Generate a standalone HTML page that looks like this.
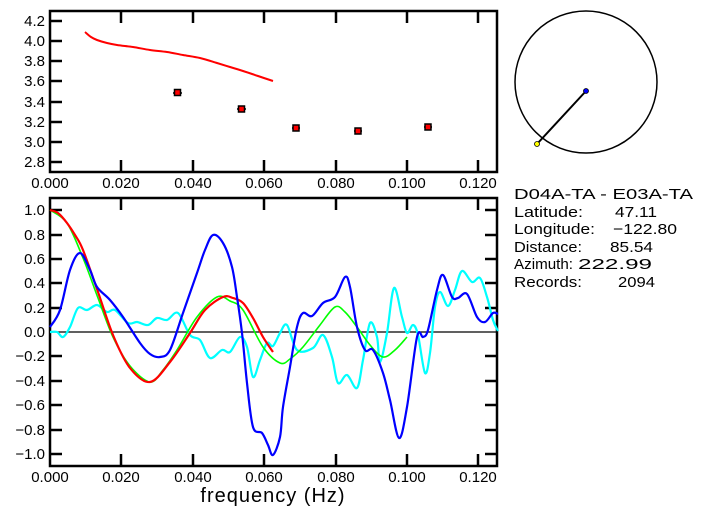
<!DOCTYPE html>
<html><head><meta charset="utf-8"><style>
html,body{margin:0;padding:0;background:#fff;width:702px;height:519px;overflow:hidden}
svg{display:block}
.t{font-family:"Liberation Sans",sans-serif;font-size:15px;fill:#000}
.m{font-family:"Liberation Sans",sans-serif;font-size:15px;fill:#000}
</style></head><body>
<svg width="702" height="519" viewBox="0 0 702 519" xmlns="http://www.w3.org/2000/svg">
<!-- top panel -->
<rect x="50" y="11" width="447" height="161" fill="none" stroke="#000" stroke-width="2.5"/>
<g stroke="#000" stroke-width="2.5">
<line x1="50" y1="21" x2="62" y2="21"/><line x1="50" y1="41" x2="62" y2="41"/><line x1="50" y1="61" x2="62" y2="61"/><line x1="50" y1="81" x2="62" y2="81"/><line x1="50" y1="102" x2="62" y2="102"/><line x1="50" y1="122" x2="62" y2="122"/><line x1="50" y1="142" x2="62" y2="142"/><line x1="50" y1="162" x2="62" y2="162"/>
<line x1="121" y1="11" x2="121" y2="23"/><line x1="193" y1="11" x2="193" y2="23"/><line x1="264" y1="11" x2="264" y2="23"/><line x1="336" y1="11" x2="336" y2="23"/><line x1="407" y1="11" x2="407" y2="23"/><line x1="478" y1="11" x2="478" y2="23"/>
<line x1="121" y1="172" x2="121" y2="160"/><line x1="193" y1="172" x2="193" y2="160"/><line x1="264" y1="172" x2="264" y2="160"/><line x1="336" y1="172" x2="336" y2="160"/><line x1="407" y1="172" x2="407" y2="160"/><line x1="478" y1="172" x2="478" y2="160"/>
</g>
<g class="t" text-anchor="end">
<text x="45" y="26">4.2</text><text x="45" y="46">4.0</text><text x="45" y="66">3.8</text><text x="45" y="86">3.6</text><text x="45" y="107">3.4</text><text x="45" y="127">3.2</text><text x="45" y="147">3.0</text><text x="45" y="167">2.8</text>
</g>
<g class="t" text-anchor="middle">
<text x="50" y="188">0.000</text><text x="121" y="188">0.020</text><text x="193" y="188">0.040</text><text x="264" y="188">0.060</text><text x="336" y="188">0.080</text><text x="407" y="188">0.100</text><text x="478" y="188">0.120</text>
</g>
<polyline class="s" fill="none" stroke="#f00" stroke-width="2" points="85,32 91,37 97,40 107,43 117,45 133,47 150,50 167,52 183,55 200,58 217,63 230,67 243,71 258,76 273,81"/>
<g stroke="#000" stroke-width="1.5" fill="#f00">
<line x1="173" y1="93" x2="182" y2="93"/><rect x="174.5" y="89.5" width="6" height="6"/>
<line x1="237" y1="109" x2="246" y2="109"/><rect x="238.5" y="106" width="6" height="6"/>
<line x1="292" y1="128" x2="300" y2="128"/><rect x="293" y="125" width="6" height="6"/>
<line x1="354" y1="131" x2="362" y2="131"/><rect x="355" y="128" width="6" height="6"/>
<line x1="424" y1="127" x2="432" y2="127"/><rect x="425" y="124" width="6" height="6"/>
</g>
<!-- circle -->
<circle cx="586" cy="82" r="71" fill="none" stroke="#000" stroke-width="1.5"/>
<line x1="586" y1="91" x2="537" y2="144" stroke="#000" stroke-width="2"/>
<circle cx="586" cy="91" r="2.5" fill="#00f" stroke="#000" stroke-width="0.8"/>
<circle cx="537" cy="144" r="2.5" fill="#ff0" stroke="#000" stroke-width="0.8"/>
<g class="m">
<text x="514" y="199" textLength="179" lengthAdjust="spacingAndGlyphs">D04A-TA  -  E03A-TA</text>
<text x="514" y="217" textLength="69" lengthAdjust="spacingAndGlyphs">Latitude:</text><text x="615" y="217" textLength="42" lengthAdjust="spacingAndGlyphs">47.11</text>
<text x="514" y="234" textLength="81" lengthAdjust="spacingAndGlyphs">Longitude:</text><text x="613" y="234" textLength="64" lengthAdjust="spacingAndGlyphs">−122.80</text>
<text x="514" y="252" textLength="68" lengthAdjust="spacingAndGlyphs">Distance:</text><text x="610" y="252" textLength="43" lengthAdjust="spacingAndGlyphs">85.54</text>
<text x="514" y="269" textLength="59" lengthAdjust="spacingAndGlyphs">Azimuth:</text><text x="578" y="269" textLength="74" lengthAdjust="spacingAndGlyphs">222.99</text>
<text x="514" y="287" textLength="68" lengthAdjust="spacingAndGlyphs">Records:</text><text x="618" y="287" textLength="37" lengthAdjust="spacingAndGlyphs">2094</text>
</g>
<!-- bottom panel -->
<rect x="50" y="198" width="447" height="268" fill="none" stroke="#000" stroke-width="2.5"/>
<line x1="50" y1="332" x2="497" y2="332" stroke="#000" stroke-width="1.3"/>
<g stroke="#000" stroke-width="2.5">
<line x1="50" y1="210" x2="62" y2="210"/><line x1="50" y1="235" x2="62" y2="235"/><line x1="50" y1="259" x2="62" y2="259"/><line x1="50" y1="283" x2="62" y2="283"/><line x1="50" y1="308" x2="62" y2="308"/><line x1="50" y1="356" x2="62" y2="356"/><line x1="50" y1="381" x2="62" y2="381"/><line x1="50" y1="405" x2="62" y2="405"/><line x1="50" y1="430" x2="62" y2="430"/><line x1="50" y1="454" x2="62" y2="454"/>
<line x1="485" y1="210" x2="497" y2="210"/><line x1="485" y1="235" x2="497" y2="235"/><line x1="485" y1="259" x2="497" y2="259"/><line x1="485" y1="283" x2="497" y2="283"/><line x1="485" y1="308" x2="497" y2="308"/><line x1="485" y1="356" x2="497" y2="356"/><line x1="485" y1="381" x2="497" y2="381"/><line x1="485" y1="405" x2="497" y2="405"/><line x1="485" y1="430" x2="497" y2="430"/><line x1="485" y1="454" x2="497" y2="454"/>
<line x1="121" y1="198" x2="121" y2="210"/><line x1="193" y1="198" x2="193" y2="210"/><line x1="264" y1="198" x2="264" y2="210"/><line x1="336" y1="198" x2="336" y2="210"/><line x1="407" y1="198" x2="407" y2="210"/><line x1="478" y1="198" x2="478" y2="210"/>
<line x1="121" y1="466" x2="121" y2="454"/><line x1="193" y1="466" x2="193" y2="454"/><line x1="264" y1="466" x2="264" y2="454"/><line x1="336" y1="466" x2="336" y2="454"/><line x1="407" y1="466" x2="407" y2="454"/><line x1="478" y1="466" x2="478" y2="454"/>
</g>
<g class="t" text-anchor="end">
<text x="45" y="215">1.0</text><text x="45" y="240">0.8</text><text x="45" y="264">0.6</text><text x="45" y="288">0.4</text><text x="45" y="313">0.2</text><text x="45" y="337">0.0</text><text x="45" y="361">−0.2</text><text x="45" y="386">−0.4</text><text x="45" y="410">−0.6</text><text x="45" y="435">−0.8</text><text x="45" y="459">−1.0</text>
</g>
<g class="t" text-anchor="middle">
<text x="50" y="482">0.000</text><text x="121" y="482">0.020</text><text x="193" y="482">0.040</text><text x="264" y="482">0.060</text><text x="336" y="482">0.080</text><text x="407" y="482">0.100</text><text x="478" y="482">0.120</text>
</g>
<text x="273" y="502" text-anchor="middle" style="font-family:'Liberation Sans',sans-serif;font-size:20px;letter-spacing:1px">frequency (Hz)</text>
<!-- curves -->
<polyline class="s" fill="none" stroke="#0ff" stroke-width="2.2" stroke-linejoin="round" points="50,332 57,332 63,337 70,327 78,308 87,310 97,305 107,312 115,310 128,323 137,322 148,325 157,318 167,320 178,313 190,335 200,340 210,358 222,350 230,352 240,337 247,347 253,377 260,360 267,343 273,346 280,333 287,325 297,350 313,348 323,335 332,357 338,383 347,375 357,388 363,360 370,323 377,337 380,362 387,333 394,288 402,317 407,333 413,325 418,335 425,373 430,353 435,307 440,292 448,306 455,290 462,271 472,282 480,278 487,297 493,320 498,331"/>
<polyline class="s" fill="none" stroke="#0f0" stroke-width="1.6" stroke-linejoin="round" points="50,210 67,223 83,258 98,298 113,337 130,366 150,382 163,370 177,350 197,317 217,297 230,301 243,310 263,347 280,363 290,359 303,347 320,325 335,307 345,312 357,327 370,345 383,357 395,350 407,337"/>
<polyline class="s" fill="none" stroke="#f00" stroke-width="2.2" stroke-linejoin="round" points="50,210 58,213 67,223 75,235 83,250 98,292 113,335 130,368 150,382 170,362 190,333 205,310 223,297 233,298 243,303 253,318 263,337 273,352"/>
<polyline class="s" fill="none" stroke="#00f" stroke-width="2.2" stroke-linejoin="round" points="50,327 60,310 70,270 80,253 90,270 97,287 110,300 123,317 140,343 150,354 160,357 170,350 183,313 197,273 205,250 213,235 223,243 232,267 237,297 242,333 247,383 253,427 262,433 268,445 273,455 280,437 283,407 290,367 297,327 303,313 312,316 323,303 335,297 345,277 350,287 357,327 365,350 373,350 383,373 390,400 399,438 407,407 417,337 423,337 428,330 437,290 443,275 452,297 458,298 467,294 477,317 485,322 493,313 498,314"/>
</svg>
<script>
document.querySelectorAll('polyline.s').forEach(function(pl){
  var p=pl.getAttribute('points').trim().split(/\s+/).map(function(s){return s.split(',').map(Number);});
  var d='M'+p[0][0]+','+p[0][1];
  for(var i=0;i<p.length-1;i++){
    var p0=p[i-1]||p[i],p1=p[i],p2=p[i+1],p3=p[i+2]||p2;
    var c1x=p1[0]+(p2[0]-p0[0])/6,c1y=p1[1]+(p2[1]-p0[1])/6;
    var c2x=p2[0]-(p3[0]-p1[0])/6,c2y=p2[1]-(p3[1]-p1[1])/6;
    d+=' C'+c1x.toFixed(1)+','+c1y.toFixed(1)+' '+c2x.toFixed(1)+','+c2y.toFixed(1)+' '+p2[0]+','+p2[1];
  }
  var path=document.createElementNS('http://www.w3.org/2000/svg','path');
  ['fill','stroke','stroke-width','stroke-linejoin'].forEach(function(a){if(pl.getAttribute(a))path.setAttribute(a,pl.getAttribute(a));});
  path.setAttribute('d',d);
  pl.parentNode.replaceChild(path,pl);
});
</script>
</body></html>
